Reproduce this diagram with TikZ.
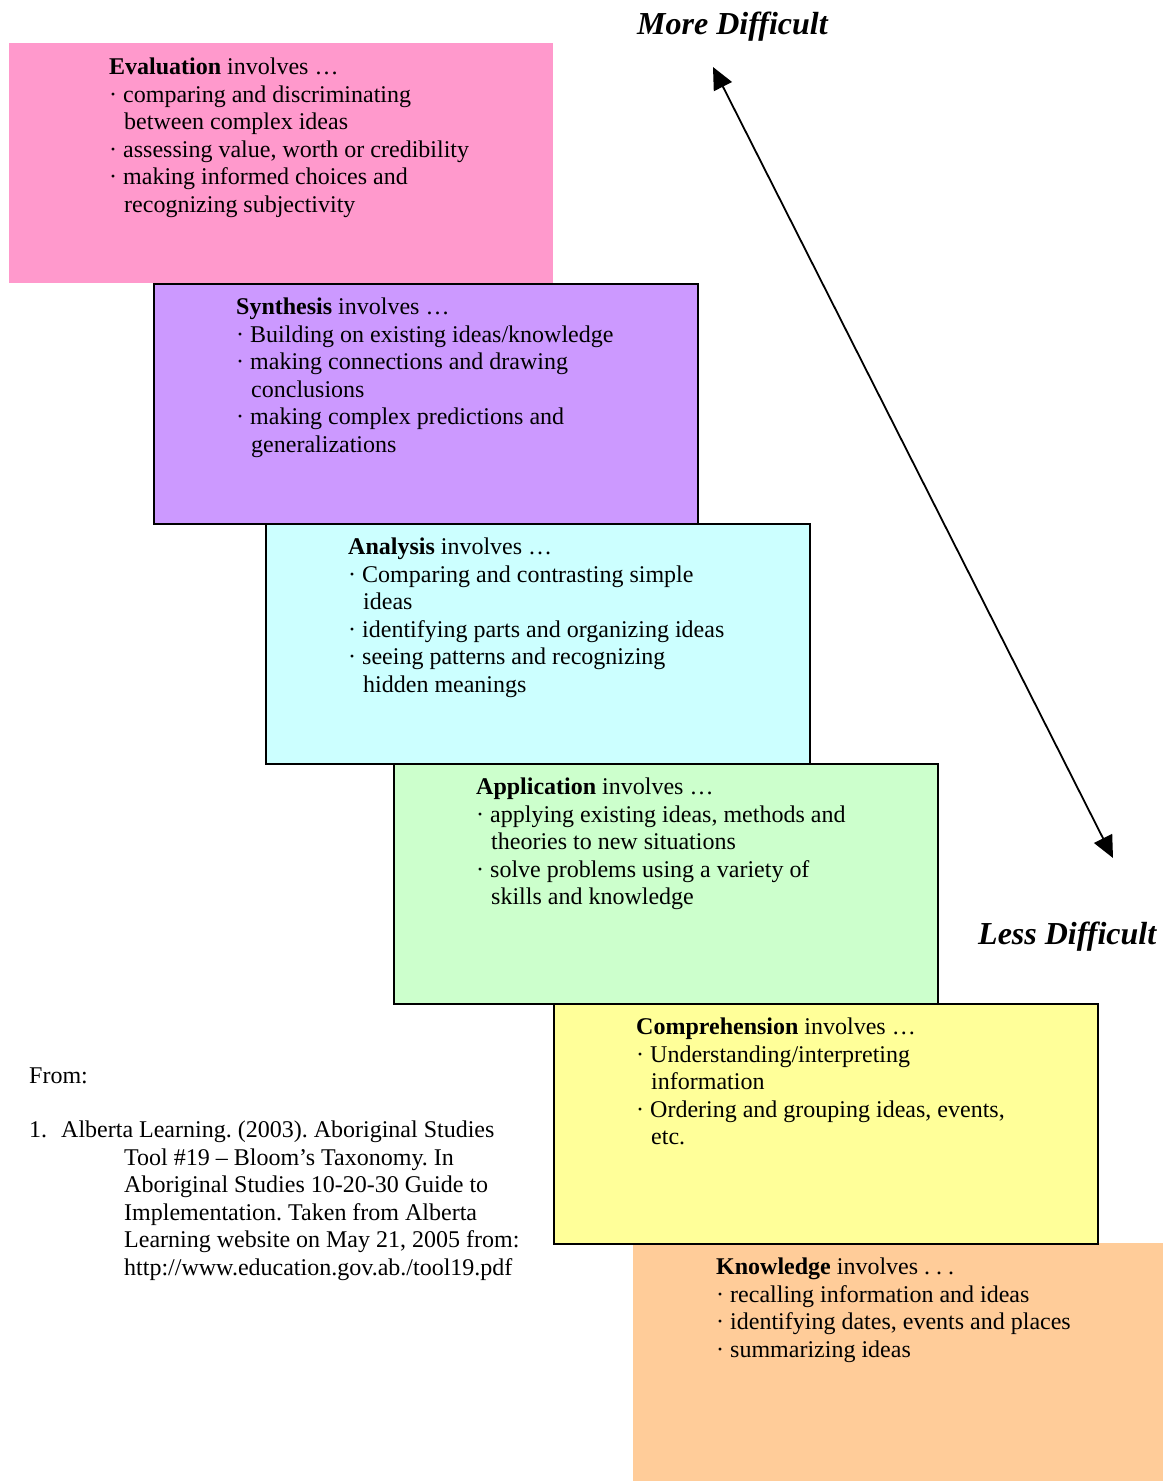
\documentclass[tikz,border=0pt]{standalone}
\usepackage{fontspec}
\setmainfont{Liberation Serif}
\usetikzlibrary{arrows.meta}
\frenchspacing

% level fills
\definecolor{evalpink}{HTML}{FF99CC}
\definecolor{synthpurple}{HTML}{CC99FF}
\definecolor{analcyan}{HTML}{CCFFFF}
\definecolor{applgreen}{HTML}{CCFFCC}
\definecolor{compyellow}{HTML}{FFFF99}
\definecolor{knoworange}{HTML}{FFCC99}

% indent for wrapped bullet lines
\newcommand\wrapind{\hspace*{15pt}}
% hanging indent of the reference entry
\newcommand\refind{\hspace*{95pt}}

\begin{document}
\begin{tikzpicture}[x=1pt,y=-1pt,
  level/.style={rectangle, inner sep=0pt, minimum width=544pt,
                minimum height=240pt, anchor=north west},
  framed/.style={level, draw=black, line width=1.5pt},
  body/.style={inner sep=0pt, anchor=north west, align=left,
               font=\fontsize{24pt}{27.5pt}\selectfont},
  tag/.style={inner sep=0pt, anchor=base west,
              font=\fontsize{32pt}{36pt}\selectfont\bfseries\itshape},
  twoway/.style={{Triangle[length=22pt,width=20pt]}-{Triangle[length=22pt,width=20pt]},
                 line width=1.8pt},
]
\fill[white] (0,0) rectangle (1163,1481);
\useasboundingbox (0,0) rectangle (1163,1481);

% staircase of levels
\node[level, fill=evalpink] (eval) at (9,43) {};
\node[framed, fill=synthpurple] (synth) at (153,283) {};
\node[framed, fill=analcyan] (anal) at (265,523) {};
\node[framed, fill=applgreen] (appl) at (393,763) {};
\node[level, fill=knoworange, minimum width=530pt, minimum height=238pt] (know) at (633,1243) {};
\node[framed, fill=compyellow] (comp) at (553,1003) {};

% level descriptions
\node[body] (evaltext) at ([shift={(100,12.5)}]eval.north west)
  {\strut\textbf{Evaluation} involves …\\
   · comparing and discriminating\\
   \wrapind between complex ideas\\
   · assessing value, worth or credibility\\
   · making informed choices and\\
   \wrapind recognizing subjectivity};

\node[body] (synthtext) at ([shift={(83,12.5)}]synth.north west)
  {\strut\textbf{Synthesis} involves …\\
   · Building on existing ideas/knowledge\\
   · making connections and drawing\\
   \wrapind conclusions\\
   · making complex predictions and\\
   \wrapind generalizations};

\node[body] (analtext) at ([shift={(83,12.5)}]anal.north west)
  {\strut\textbf{Analysis} involves …\\
   · Comparing and contrasting simple\\
   \wrapind ideas\\
   · identifying parts and organizing ideas\\
   · seeing patterns and recognizing\\
   \wrapind hidden meanings};

\node[body] (appltext) at ([shift={(83,12.5)}]appl.north west)
  {\strut\textbf{Application} involves …\\
   · applying existing ideas, methods and\\
   \wrapind theories to new situations\\
   · solve problems using a variety of\\
   \wrapind skills and knowledge};

\node[body] (comptext) at ([shift={(83,12.5)}]comp.north west)
  {\strut\textbf{Comprehension} involves …\\
   · Understanding/interpreting\\
   \wrapind information\\
   · Ordering and grouping ideas, events,\\
   \wrapind etc.};

\node[body] (knowtext) at ([shift={(83,12.5)}]know.north west)
  {\strut\textbf{Knowledge} involves . . .\\
   · recalling information and ideas\\
   · identifying dates, events and places\\
   · summarizing ideas};

% difficulty scale
\node[tag] (more) at (637,34) {More Difficult};
\node[tag] (less) at (978,944) {Less Difficult};
\coordinate (hard) at (713,67);
\coordinate (easy) at (1113,858);
\draw[twoway] (easy) -- (hard);

% source
\node[body, anchor=base west] (from) at (29,1083) {From:};
\node[body] (source) at (29,1118.5)
  {\strut\makebox[32pt][l]{1.}Alberta Learning. (2003). Aboriginal Studies\\
   \refind Tool \#19 – Bloom’s Taxonomy. In\\
   \refind Aboriginal Studies 10-20-30 Guide to\\
   \refind Implementation. Taken from Alberta\\
   \refind Learning website on May 21, 2005 from:\\
   \refind http://www.education.gov.ab./tool19.pdf};
\end{tikzpicture}
\end{document}
